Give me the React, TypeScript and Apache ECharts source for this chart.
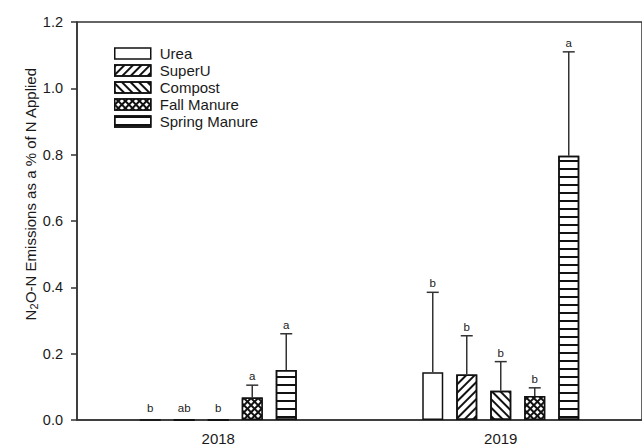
import React, { useEffect, useRef } from "react";
import * as echarts from "echarts";

// Years on the category axis
const years = ["2018", "2019"];
const treatments = ["Urea", "SuperU", "Compost", "Fall Manure", "Spring Manure"];

// Mean N2O-N emissions (% of applied N) per treatment, by year
const ureaMean = [0, 0.144];
const superUMean = [0, 0.137];
const compostMean = [0, 0.088];
const fallManureMean = [0.068, 0.072];
const springManureMean = [0.151, 0.797];

// Upper end of the error bar (mean + error)
const ureaUpper = [0, 0.385];
const superUUpper = [0, 0.254];
const compostUpper = [0, 0.176];
const fallManureUpper = [0.105, 0.097];
const springManureUpper = [0.26, 1.11];

// Mean separation letters
const ureaLetters = ["b", "b"];
const superULetters = ["ab", "b"];
const compostLetters = ["b", "b"];
const fallManureLetters = ["a", "b"];
const springManureLetters = ["a", "a"];

const yTicks = [0, 0.2, 0.4, 0.6, 0.8, 1.0, 1.2];

const means = [ureaMean, superUMean, compostMean, fallManureMean, springManureMean];
const uppers = [ureaUpper, superUUpper, compostUpper, fallManureUpper, springManureUpper];
const letters = [ureaLetters, superULetters, compostLetters, fallManureLetters, springManureLetters];

const FONT = "'Liberation Sans', Arial, sans-serif";
const INK = "#1a1a1a";
const LINE = "#333333";
const BAR_W = 21;
const BAR_GAP = 13;

// Fill colour and hatch pattern of each treatment
const fills = ["#fff", "#fff", "#fff", "#111", "#fff"];
const decals: any[] = [
  null,
  {
    symbol: "rect",
    symbolSize: 1,
    color: "#111",
    dashArrayX: [1, 0],
    dashArrayY: [1.3, 3.6],
    rotation: -Math.PI / 4,
  },
  {
    symbol: "rect",
    symbolSize: 1,
    color: "#111",
    dashArrayX: [1, 0],
    dashArrayY: [1.3, 3.6],
    rotation: Math.PI / 4,
  },
  {
    symbol: "rect",
    symbolSize: 1,
    color: "#fff",
    dashArrayX: [2.4, 1.6],
    dashArrayY: [2.4, 1.6],
    rotation: Math.PI / 4,
  },
  {
    symbol: "rect",
    symbolSize: 1,
    color: "#111",
    dashArrayX: [1, 0],
    dashArrayY: [1.2, 5.4],
    rotation: 0,
  },
];

type ErrItem = { cat: number; s: number; mean: number; upper: number; letter: string };

const errItems: ErrItem[] = [];
treatments.forEach((_, s) => {
  years.forEach((__, cat) => {
    errItems.push({ cat, s, mean: means[s][cat], upper: uppers[s][cat], letter: letters[s][cat] });
  });
});

export default function App() {
  const ref = useRef<HTMLDivElement>(null);

  useEffect(() => {
    if (!ref.current) return;
    const chart = echarts.init(ref.current, undefined, { renderer: "svg" });

    const barSeries = treatments.map((name, s) => ({
      name,
      type: "bar",
      data: means[s],
      barWidth: BAR_W,
      barGap: `${(BAR_GAP / BAR_W) * 100}%`,
      itemStyle: {
        color: fills[s],
        borderColor: "#111",
        borderWidth: 1.5,
        decal: decals[s] || undefined,
      },
      emphasis: { disabled: true },
      z: 2,
    }));

    const errSeries = {
      type: "custom",
      name: "err",
      z: 3,
      silent: true,
      data: errItems.map((d) => [d.cat, d.upper]),
      encode: { x: 0, y: 1 },
      renderItem: (params: any, api: any) => {
        const d = errItems[params.dataIndex];
        const offset = (d.s - (treatments.length - 1) / 2) * (BAR_W + BAR_GAP);
        const top = api.coord([d.cat, d.upper]);
        const base = api.coord([d.cat, d.mean]);
        const x = top[0] + offset;
        const children: any[] = [];
        if (d.upper > d.mean) {
          children.push({
            type: "line",
            shape: { x1: x, y1: base[1], x2: x, y2: top[1] },
            style: { stroke: LINE, lineWidth: 1.5 },
          });
          children.push({
            type: "line",
            shape: { x1: x - 6, y1: top[1], x2: x + 6, y2: top[1] },
            style: { stroke: LINE, lineWidth: 1.5 },
          });
        }
        children.push({
          type: "text",
          x,
          y: top[1] - (d.upper > d.mean ? 3 : 6),
          style: {
            text: d.letter,
            fontSize: 11.5,
            fontFamily: FONT,
            fill: INK,
            align: "center",
            verticalAlign: "bottom",
          },
        });
        return { type: "group", children };
      },
    };

    chart.setOption({
      animation: false,
      backgroundColor: "#fff",
      grid: {
        left: 77,
        top: 22,
        width: 570,
        height: 398,
        show: true,
        borderColor: LINE,
        borderWidth: 1.5,
        backgroundColor: "transparent",
      },
      legend: {
        orient: "vertical",
        left: 109,
        top: 40,
        icon: "rect",
        itemWidth: 36,
        itemHeight: 11,
        itemGap: 0,
        data: treatments,
        selectedMode: false,
        textStyle: {
          fontSize: 15,
          fontFamily: FONT,
          color: INK,
          padding: [0, 0, 0, 4],
          lineHeight: 17,
        },
        itemStyle: { borderColor: "#111", borderWidth: 1.5 },
      },
      xAxis: {
        type: "category",
        data: years,
        axisLine: { lineStyle: { color: LINE, width: 1.5 } },
        axisTick: { alignWithLabel: true, length: 5, lineStyle: { color: LINE, width: 1.5 } },
        axisLabel: { fontSize: 15, fontFamily: FONT, color: INK, margin: 11 },
      },
      yAxis: {
        type: "value",
        min: yTicks[0],
        max: yTicks[yTicks.length - 1],
        interval: 0.2,
        splitLine: { show: false },
        axisLine: { show: true, lineStyle: { color: LINE, width: 1.5 } },
        axisTick: { show: true, length: 6, lineStyle: { color: LINE, width: 1.5 } },
        axisLabel: {
          fontSize: 14.5,
          fontFamily: FONT,
          color: INK,
          margin: 14,
          formatter: (v: number) => v.toFixed(1),
        },
      },
      graphic: [
        {
          type: "text",
          x: 30,
          y: 194,
          rotation: Math.PI / 2,
          style: {
            text: "{n|N}{s|2}{n|O-N Emissions as a % of N Applied}",
            align: "center",
            verticalAlign: "middle",
            rich: {
              n: { fontSize: 15, fontFamily: FONT, fill: INK, lineHeight: 18, verticalAlign: "middle" },
              s: { fontSize: 11, fontFamily: FONT, fill: INK, lineHeight: 11, verticalAlign: "bottom" },
            },
          },
        },
      ],
      series: [...barSeries, errSeries],
    });

    return () => chart.dispose();
  }, []);

  return (
    <div
      ref={ref}
      style={{ position: "fixed", left: 0, top: 0, width: 642, height: 446 }}
    />
  );
}
